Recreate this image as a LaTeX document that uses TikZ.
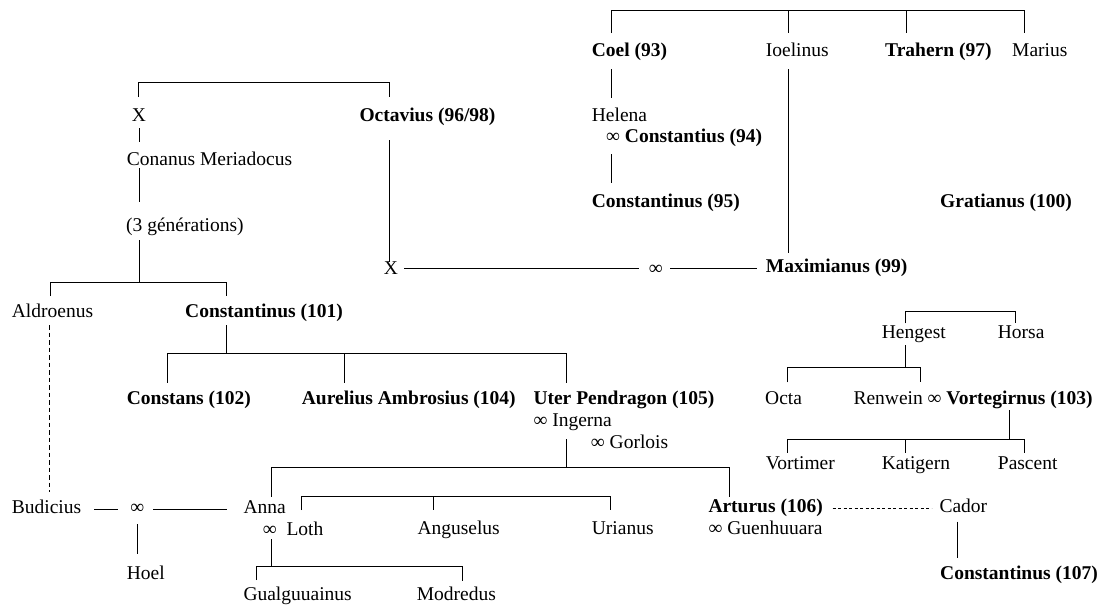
\documentclass[tikz,border=0pt]{standalone}
\usepackage{fontspec}
\setmainfont{Liberation Serif}
\begin{document}
\begin{tikzpicture}[x=1pt,y=-1pt,
  t/.style={anchor=base west, inner sep=0pt, font=\fontsize{19.5}{23}\selectfont},
  tb/.style={t, font=\fontsize{19.5}{23}\selectfont\bfseries},
  tc/.style={t, anchor=base},
  ln/.style={line width=1pt},
  dl/.style={ln, dash pattern=on 4.5pt off 3pt},
  dd/.style={ln, dash pattern=on 3pt off 2.5pt}]
\useasboundingbox (0,0) rectangle (1103,605);

% ---- text nodes ----
\node[tb] (coel) at (591.7,56) {Coel (93)};
\node[t]  (ioel) at (765.7,56) {Ioelinus};
\node[tb] (trah) at (885,56) {Trahern (97)};
\node[t]  (mar)  at (1012,56) {Marius};
\node[t]  (hel)  at (591.7,121.7) {Helena};
\node[t]  (cst94) at (606,142.7) {∞ \textbf{Constantius (94)}};
\node[tb] (cst95) at (591.7,207.7) {Constantinus (95)};
\node[tb] (grat) at (940,207.7) {Gratianus (100)};
\node[tb] (max)  at (765.7,272.7) {Maximianus (99)};
\node[tc] (xa)   at (139,121) {X};
\node[tb] (oct)  at (359.3,121) {Octavius (96/98)};
\node[t]  (con)  at (126.7,165) {Conanus Meriadocus};
\node[t]  (gen)  at (126,231.7) {(3 générations)};
\node[tc] (xb)   at (391,274.3) {X};
\node[tc] (infa) at (655.7,274.3) {∞};
\node[t]  (ald)  at (11.7,317.7) {Aldroenus};
\node[tb] (c101) at (185,317.7) {Constantinus (101)};
\node[tb] (c102) at (126.7,404.3) {Constans (102)};
\node[tb] (aur)  at (301.7,404.3) {Aurelius Ambrosius (104)};
\node[tb] (uter) at (533.3,404.3) {Uter Pendragon (105)};
\node[t]  (ing)  at (533.3,426.7) {∞ Ingerna};
\node[t]  (gor)  at (590.7,448.3) {∞ Gorlois};
\node[t]  (hen)  at (881.7,338.7) {Hengest};
\node[t]  (hor)  at (997.7,338.7) {Horsa};
\node[t]  (octa) at (765,404.3) {Octa};
\node[t]  (ren)  at (853.3,404.3) {Renwein ∞ \textbf{Vortegirnus (103)}};
\node[t]  (vorti) at (765.7,469.3) {Vortimer};
\node[t]  (kat)  at (881.7,469.3) {Katigern};
\node[t]  (pas)  at (997.7,469.3) {Pascent};
\node[t]  (bud)  at (11.7,513.3) {Budicius};
\node[tc] (infb) at (137.3,513.3) {∞};
\node[t]  (anna) at (243.3,513.3) {Anna};
\node[t]  (loth) at (262.7,535.3) {∞\hspace{0.5em}Loth};
\node[t]  (hoel) at (126.7,579.3) {Hoel};
\node[t]  (gual) at (243.3,600.5) {Gualguuainus};
\node[t]  (mod)  at (416.7,600.5) {Modredus};
\node[t]  (angu) at (417.3,534.3) {Anguselus};
\node[t]  (uri)  at (591.7,534.3) {Urianus};
\node[tb] (art)  at (708.3,512.7) {Arturus (106)};
\node[t]  (guen) at (708.3,534.3) {∞ Guenhuuara};
\node[t]  (cad)  at (939.3,512.7) {Cador};
\node[tb] (c107) at (940,579.3) {Constantinus (107)};

% ---- junction coordinates ----
\coordinate (trA) at (611,33);   \coordinate (trD) at (1024,33);
\coordinate (trTop) at (1024,10);
\coordinate (trB) at (788,33);   \coordinate (trBt) at (788,10);
\coordinate (trC) at (906,33);   \coordinate (trCt) at (906,10);
\coordinate (coelS) at (611,69); \coordinate (helN) at (611,98);
\coordinate (cst94S) at (611,154); \coordinate (cst95N) at (611,183);
\coordinate (ioelS) at (788,69); \coordinate (maxN) at (788,253);
\coordinate (tlA) at (138.5,97); \coordinate (tlTop) at (389,82.7); \coordinate (tlB) at (389,97);
\coordinate (xaS) at (139,128.3); \coordinate (conN) at (139,141.7);
\coordinate (conS) at (139,168); \coordinate (genN) at (139,201.7);
\coordinate (genS) at (139,240); \coordinate (genJ) at (139,282.7);
\coordinate (octS) at (389,140); \coordinate (xbN) at (389,261.7);
\coordinate (xbE) at (404,268.3); \coordinate (infaW) at (639.3,268.3);
\coordinate (infaE) at (670,268.3); \coordinate (maxW) at (757.3,268.3);
\coordinate (aldN) at (50,296); \coordinate (cjTop) at (226.7,282.7); \coordinate (c101N) at (226.7,296);
\coordinate (aldS) at (49.3,325); \coordinate (budN) at (49.3,491.7);
\coordinate (c101S) at (226.7,325); \coordinate (c101J) at (226.7,353.3);
\coordinate (c102N) at (167.7,382.7); \coordinate (uTop) at (566,353.3); \coordinate (uterN) at (566,383.3);
\coordinate (aurT) at (344.3,353.3); \coordinate (aurN) at (344.3,382.7);
\coordinate (uterS) at (566,439.3); \coordinate (uterJ) at (566,467.3);
\coordinate (annaN) at (271,496.7); \coordinate (arTop) at (729,467.3); \coordinate (artN) at (729,496.7);
\coordinate (lA) at (301,510); \coordinate (lTop) at (610.7,496.7); \coordinate (uriN) at (610.7,510);
\coordinate (anguT) at (433.3,496.7); \coordinate (anguN) at (433.3,510);
\coordinate (budE) at (94.3,509.3); \coordinate (infbW) at (118.3,509.3);
\coordinate (infbE) at (153.3,509.3); \coordinate (annaW) at (226.7,509.3);
\coordinate (infbS) at (137.7,524); \coordinate (hoelN) at (137.7,554);
\coordinate (lothS) at (271,539.3); \coordinate (lothJ) at (271,566);
\coordinate (gualN) at (256.7,580); \coordinate (mTop) at (462.3,566); \coordinate (modN) at (462.3,581);
\coordinate (artE) at (832.7,508.3); \coordinate (cadW) at (931.7,508.3);
\coordinate (cadS) at (957.7,521.7); \coordinate (c107N) at (957.7,558.3);
\coordinate (henN) at (905.7,323.3); \coordinate (hTop) at (1015.7,311); \coordinate (horN) at (1015.7,323.3);
\coordinate (henS) at (905.7,345); \coordinate (henJ) at (905.7,367.3);
\coordinate (octaN) at (787.7,382.3); \coordinate (rTop) at (920.7,367.3); \coordinate (renN) at (920.7,382.3);
\coordinate (vortS) at (1009.3,410); \coordinate (vortJ) at (1009.3,439.3);
\coordinate (vortiN) at (787.7,452.7); \coordinate (pTop) at (1024,439.3); \coordinate (pasN) at (1024,452.7);
\coordinate (katT) at (905.7,439.3); \coordinate (katN) at (905.7,452.7);

% ---- connectors ----
\draw[ln] (trA) |- (trTop) -- (trD);
\draw[ln] (trBt) -- (trB);
\draw[ln] (trCt) -- (trC);
\draw[ln] (coelS) -- (helN);
\draw[ln] (cst94S) -- (cst95N);
\draw[ln] (ioelS) -- (maxN);
\draw[ln] (tlA) |- (tlTop) -- (tlB);
\draw[ln] (xaS) -- (conN);
\draw[ln] (conS) -- (genN);
\draw[ln] (genS) -- (genJ);
\draw[ln] (octS) -- (xbN);
\draw[ln] (xbE) -- (infaW);
\draw[ln] (infaE) -- (maxW);
\draw[ln] (aldN) |- (cjTop) -- (c101N);
\draw[dl] (aldS) -- (budN);
\draw[ln] (c101S) -- (c101J);
\draw[ln] (c102N) |- (uTop) -- (uterN);
\draw[ln] (aurT) -- (aurN);
\draw[ln] (uterS) -- (uterJ);
\draw[ln] (annaN) |- (arTop) -- (artN);
\draw[ln] (lA) |- (lTop) -- (uriN);
\draw[ln] (anguT) -- (anguN);
\draw[ln] (budE) -- (infbW);
\draw[ln] (infbE) -- (annaW);
\draw[ln] (infbS) -- (hoelN);
\draw[ln] (lothS) -- (lothJ);
\draw[ln] (gualN) |- (mTop) -- (modN);
\draw[dd] (artE) -- (cadW);
\draw[ln] (cadS) -- (c107N);
\draw[ln] (henN) |- (hTop) -- (horN);
\draw[ln] (henS) -- (henJ);
\draw[ln] (octaN) |- (rTop) -- (renN);
\draw[ln] (vortS) -- (vortJ);
\draw[ln] (vortiN) |- (pTop) -- (pasN);
\draw[ln] (katT) -- (katN);
\end{tikzpicture}
\end{document}
